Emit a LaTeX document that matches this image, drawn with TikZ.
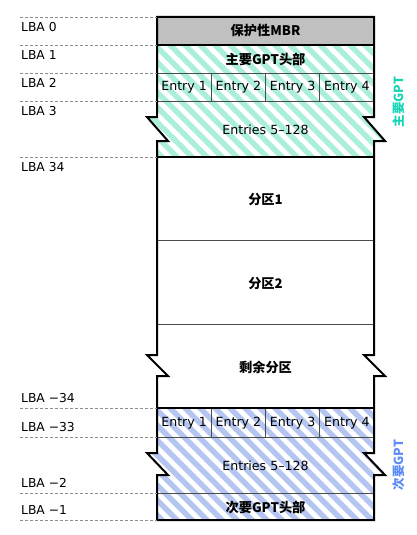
\documentclass[tikz,border=0pt]{standalone}
\usepackage{fontspec}
\setmainfont{DejaVu Sans}
\newfontfamily\cjk{Noto Sans CJK SC}
\usepackage{xcolor}
\usetikzlibrary{positioning}
\definecolor{myMint}{RGB}{172,238,220}
\definecolor{mySky}{RGB}{180,198,240}
\definecolor{myTeal}{RGB}{20,214,182}
\definecolor{myBlue}{RGB}{92,140,245}
\definecolor{myGray}{RGB}{192,192,192}
\newcommand{\hatchrows}[3]{% colour, top, bottom
  \foreach \k in {0,15,...,405}
    \draw[#1, line width=5.5pt] (\k,#2-5) -- ++(#3-#2+10,#3-#2+10);}

\begin{document}
\begin{tikzpicture}[x=1pt,y=-1pt,font=\fontsize{12.3}{14}\selectfont]
\tikzstyle{lba}=[anchor=west, inner sep=0pt]
\tikzstyle{guide}=[densely dashed, black!45, line width=0.9pt]
\tikzstyle{rim}=[line width=2pt, line join=miter]
\tikzstyle{bold}=[line width=1.8pt]
\tikzstyle{sep}=[line width=1pt, black!70]
\tikzstyle{ent}=[inner sep=1pt, font=\fontsize{12.6}{14}\selectfont]
\tikzstyle{zh}=[inner sep=1pt, font=\cjk\bfseries\fontsize{13.2}{15}\selectfont]
\useasboundingbox (0,0) rectangle (417,535);
% protective MBR
\fill[myGray] (157,17) rectangle (374,45);
% primary GPT hatching
\begin{scope}
\clip (157,45) -- (374,45) -- (374,117) -- (364,117) -- (385,141) -- (374,141) -- (374,157)
  -- (157,157) -- (157,141) -- (168,141) -- (147,117) -- (157,117) -- cycle;
\hatchrows{myMint}{45}{157}
\end{scope}
% secondary GPT hatching
\begin{scope}
\clip (157,408) -- (374,408) -- (374,453) -- (364,453) -- (385,475) -- (374,475) -- (374,520)
  -- (157,520) -- (157,475) -- (168,475) -- (147,453) -- (157,453) -- cycle;
\hatchrows{mySky}{408}{520}
\end{scope}
% row and entry separators
\draw[sep] (157,73) -- (374,73) (157,101) -- (374,101);
\draw[sep] (157,240) -- (374,240) (157,324) -- (374,324);
\draw[sep] (157,437) -- (374,437) (157,493) -- (374,493);
\foreach \x in {211.25,265.5,319.75} {
  \draw[sep] (\x,73) -- (\x,101);
  \draw[sep] (\x,408) -- (\x,437);
}
\draw[bold] (157,45) -- (374,45) (157,157) -- (374,157) (157,408) -- (374,408);
% outline with breaks
\draw[rim] (157,17) -- (374,17) -- (374,117) -- (364,117) -- (385,141) -- (374,141)
  -- (374,355) -- (364,355) -- (385,376) -- (374,376)
  -- (374,453) -- (364,453) -- (385,475) -- (374,475) -- (374,520)
  -- (157,520) -- (157,475) -- (168,475) -- (147,453) -- (157,453)
  -- (157,376) -- (168,376) -- (147,355) -- (157,355)
  -- (157,141) -- (168,141) -- (147,117) -- (157,117) -- cycle;
% LBA guides
\foreach \y in {17,45,73,101,157,408,437,493,520}
  \draw[guide] (20,\y) -- (157,\y);
% LBA labels
\node[lba] (lba0) at (21,27) {LBA 0};
\node[lba] (lba1) at (21,55) {LBA 1};
\node[lba] (lba2) at (21,83) {LBA 2};
\node[lba] (lba3) at (21,111) {LBA 3};
\node[lba] (lba34) at (21,167) {LBA 34};
\node[lba] (lbam34) at (21,398) {LBA −34};
\node[lba] (lbam33) at (21,427) {LBA −33};
\node[lba] (lbam2) at (21,483) {LBA −2};
\node[lba] (lbam1) at (21,510) {LBA −1};
% cell texts
\node[zh] (mbr) at (265.5,31) {保护性MBR};
\node[zh] (hdr) at (265.5,59) {主要GPT头部};
\node[ent] (e1) at (184.1,87) {Entry 1};
\node[ent] (e2) at (238.4,87) {Entry 2};
\node[ent] (e3) at (292.6,87) {Entry 3};
\node[ent] (e4) at (346.9,87) {Entry 4};
\node[ent] (ents) at (265.5,130) {Entries 5–128};
\node[zh] (p1) at (265.5,200) {分区1};
\node[zh] (p2) at (265.5,284) {分区2};
\node[zh] (rest) at (265.5,367) {剩余分区};
\node[ent] (be1) at (184.1,423) {Entry 1};
\node[ent] (be2) at (238.4,423) {Entry 2};
\node[ent] (be3) at (292.6,423) {Entry 3};
\node[ent] (be4) at (346.9,423) {Entry 4};
\node[ent] (bents) at (265.5,466) {Entries 5–128};
\node[zh] (bhdr) at (265.5,507) {次要GPT头部};
% side labels
\node[zh, rotate=90, text=myTeal, font=\cjk\bfseries\fontsize{12.5}{14}\selectfont] (pri) at (399,102) {主要GPT};
\node[zh, rotate=90, text=myBlue, font=\cjk\bfseries\fontsize{12.5}{14}\selectfont] (sec) at (399,465) {次要GPT};
\end{tikzpicture}
\end{document}
